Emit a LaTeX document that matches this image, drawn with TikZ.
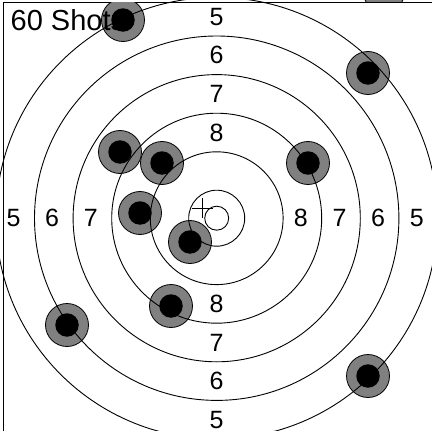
\documentclass[tikz,border=0pt]{standalone}
\usepackage{fontspec}
\setmainfont{Liberation Sans}
\usetikzlibrary{calc}
\begin{document}
\begin{tikzpicture}[x=1pt,y=-1pt,
  ring/.style={draw=black,line width=0.9pt},
  shot/.style={circle,draw=black,line width=0.8pt,fill=gray,minimum size=43pt,inner sep=0pt},
  hole/.style={circle,fill=black,minimum size=23.5pt,inner sep=0pt},
  lbl/.style={inner sep=0pt,font=\fontsize{25}{30}\selectfont},
  titlefont/.style={inner sep=0pt,font=\fontsize{29}{34}\selectfont},
  framebox/.style={draw=black,line width=0.9pt}]
\useasboundingbox (0,0) rectangle (432,431);
\begin{scope}
\clip (0,0) rectangle (432,431);
% shot seen only above the frame line
\begin{scope}
\clip (0,0) rectangle (432,2);
\node[shot] (s11) at (384,-10) {};
\end{scope}
% frame
\draw[framebox] (3.3,2) rectangle (460,460);
% shots, clipped to the frame
\begin{scope}
\clip (3.3,2) rectangle (460,460);
\foreach \n/\px/\py in {1/123/20, 2/368/73, 3/120/152, 4/162/163, 5/308/163,
  6/140/213, 7/190/242, 8/171/306, 9/67/325, 10/368/376} {
  \node[shot] (s\n) at (\px,\py) {};
  \node[hole] (h\n) at (s\n) {};
}
\end{scope}
% title
\node[titlefont,anchor=base west] (title) at (10.5,30.7) {60 Shots};
% rings
\coordinate (c) at (216.7,218.2);
\foreach \r in {12,28,66.4,105,143.6,182.2,220.8} {
  \draw[ring] (c) circle[radius=\r];
}
\end{scope}
% ring labels
\foreach \v/\r in {8/85.7,7/124.3,6/163,5/201.6} {
  \node[lbl] (top\v) at ($(c)+(0,-\r)$) {\v};
  \node[lbl] (bot\v) at ($(c)+(0,\r)$) {\v};
  \node[lbl] (rgt\v) at ($(c)+(\r-1.5,0)$) {\v};
}
\foreach \v/\r in {7/124.3,6/163,5/201.6} {
  \node[lbl] (lft\v) at ($(c)+(-\r-1.5,0)$) {\v};
}
% cross
\coordinate (x0) at (202.5,208.3);
\draw[line width=0.9pt] ($(x0)+(-10.8,0)$) coordinate (xl) -- ($(x0)+(10.8,0)$) coordinate (xr);
\draw[line width=0.9pt] ($(x0)+(0,-10)$) coordinate (xt) -- ($(x0)+(0,10)$) coordinate (xb);
\end{tikzpicture}
\end{document}
